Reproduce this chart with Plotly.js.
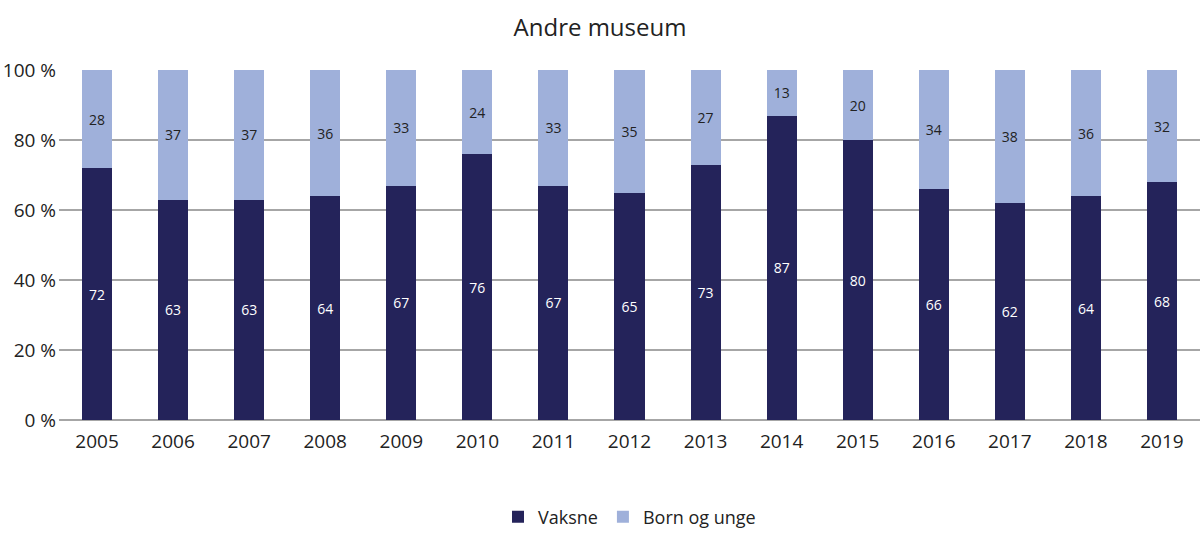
<!DOCTYPE html>
<html><head><meta charset="utf-8">
<script src="https://cdn.plot.ly/plotly-3.0.1.min.js"></script>
<style>html,body{margin:0;padding:0;background:#fff}#chart{width:1200px;height:544px}</style>
</head><body><div id="chart"></div>
<script>
const years = ['2005','2006','2007','2008','2009','2010','2011','2012','2013','2014','2015','2016','2017','2018','2019'];
const vaksne = [72,63,63,64,67,76,67,65,73,87,80,66,62,64,68];
const bornOgUnge = [28,37,37,36,33,24,33,35,27,13,20,34,38,36,32];
const yTickVals = [0,20,40,60,80,100];
const yTickText = ['0 %','20 %','40 %','60 %','80 %','100 %'];

const font = 'Open Sans, Lato, sans-serif';
const traces = [
  {type:'bar', name:'Vaksne', x:years, y:vaksne, text:vaksne.map(String),
   textposition:'inside', insidetextanchor:'middle', textangle:0,
   textfont:{color:'#ffffff', size:14, family:font},
   marker:{color:'#24235a'}},
  {type:'bar', name:'Born og unge', x:years, y:bornOgUnge, text:bornOgUnge.map(String),
   textposition:'inside', insidetextanchor:'middle', textangle:0,
   textfont:{color:'#222222', size:14, family:font},
   marker:{color:'#9fb0da'}}
];
const layout = {
  width:1200, height:544,
  barmode:'stack', bargap:0.605,
  margin:{l:59, r:0, t:70, b:124},
  paper_bgcolor:'#fff', plot_bgcolor:'#fff',
  font:{family:font, color:'#222', size:19},
  title:{text:'Andre museum', x:0.5, xanchor:'center', y:0.95, yanchor:'middle', font:{size:24, family:font, color:'#222'}},
  xaxis:{type:'category', tickfont:{size:19}, showgrid:false, showline:false, ticks:'', range:[-0.5,14.5], ticklabelstandoff:8},
  yaxis:{range:[0,100], tickvals:yTickVals, ticktext:yTickText, showgrid:true, gridcolor:'#a6a6a6', gridwidth:1.2,
         zeroline:true, zerolinecolor:'#a6a6a6', zerolinewidth:1.2, tickfont:{size:19}, ticks:'', ticklen:0, ticklabelstandoff:2},
  showlegend:true,
  legend:{orientation:'h', x:0.5, xanchor:'center', y:-0.277, yanchor:'middle', font:{size:18}, traceorder:'normal', itemwidth:30},
  uniformtext:{mode:false}
};
Plotly.newPlot('chart', traces, layout, {displayModeBar:false, staticPlot:true});
</script></body></html>
